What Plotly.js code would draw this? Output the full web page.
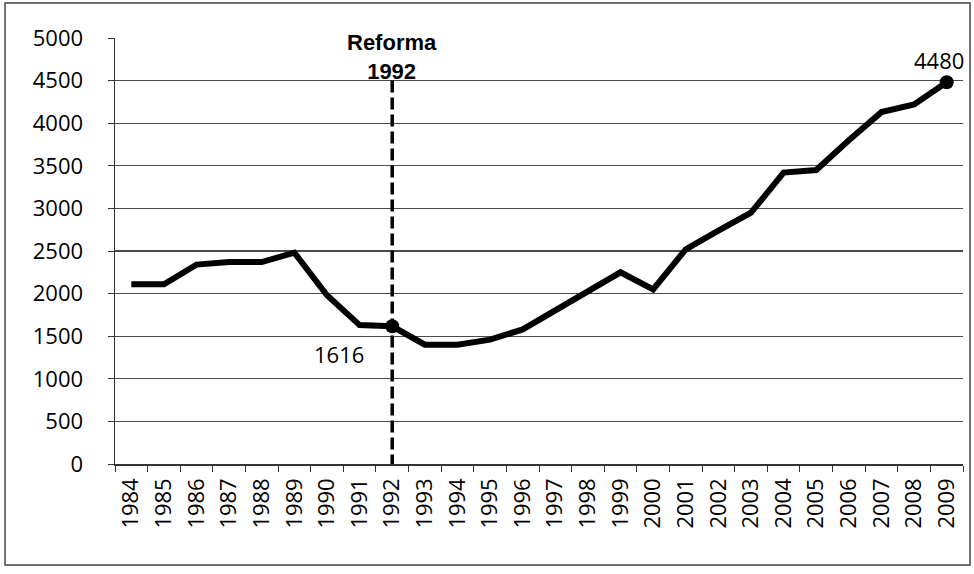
<!DOCTYPE html>
<html>
<head>
<meta charset="utf-8">
<script src="https://cdn.plot.ly/plotly-3.0.1.min.js"></script>
<style>
html,body{margin:0;padding:0;background:#fff;}
#chart{width:974px;height:574px;}
</style>
</head>
<body>
<div id="chart"></div>
<script>
// Data
const years = ["1984","1985","1986","1987","1988","1989","1990","1991","1992","1993","1994","1995","1996","1997","1998","1999","2000","2001","2002","2003","2004","2005","2006","2007","2008","2009"];
const values = [2110,2110,2340,2370,2370,2480,1980,1630,1616,1400,1400,1460,1580,1800,2040,2250,2050,2520,2740,2950,3420,3450,3800,4130,4220,4480];
const markedYears = ["1992","2009"];
const markedValues = [1616,4480];
const reformYear = "1992";
const reformTop = 4500;
const reformLabel = "Reforma<br>1992";
const yTicks = [0,500,1000,1500,2000,2500,3000,3500,4000,4500,5000];

const FONT = "Open Sans, Noto Sans, DejaVu Sans, sans-serif";
// category axes: refer to categories by their index
const idx = y => years.indexOf(y);

const traces = [
  {
    x: years, y: values, type: "scatter", mode: "lines",
    line: {color: "#000", width: 6},
    hoverinfo: "skip", showlegend: false
  },
  {
    x: markedYears, y: markedValues, type: "scatter", mode: "markers",
    marker: {color: "#000", size: 14},
    hoverinfo: "skip", showlegend: false
  }
];

const layout = {
  width: 974, height: 574,
  margin: {l: 115, r: 11, t: 38, b: 110},
  paper_bgcolor: "#fff", plot_bgcolor: "#fff",
  showlegend: false,
  font: {family: FONT, color: "#000"},
  xaxis: {
    type: "category",
    tickangle: -90,
    tickfont: {family: FONT, size: 22, color: "#000"},
    tickson: "boundaries",
    ticks: "outside", ticklen: 6, tickcolor: "#333", tickwidth: 1,
    showline: true, linecolor: "#333", linewidth: 1.5,
    showgrid: false, zeroline: false,
    ticklabelstandoff: 4,
    range: [-0.5, years.length - 0.5]
  },
  yaxis: {
    range: [0, 5000],
    tickvals: yTicks,
    ticktext: yTicks.map(String),
    tickfont: {family: FONT, size: 22, color: "#000"},
    ticks: "outside", ticklen: 6, tickcolor: "#333",
    ticklabelstandoff: 20,
    showline: true, linecolor: "#333", linewidth: 1.5,
    showgrid: true, gridcolor: "#4a4a4a", gridwidth: 1.2,
    zeroline: false
  },
  shapes: [
    {
      type: "line", xref: "x", yref: "y",
      x0: idx(reformYear), x1: idx(reformYear), y0: -30, y1: reformTop,
      line: {color: "#000", width: 3.5, dash: "12px,5px"}
    },
    {
      type: "rect", xref: "paper", yref: "paper",
      x0: -0.1297, x1: 1.0083, y0: -0.237, y1: 1.082,
      line: {color: "#444", width: 1.5}
    }
  ],
  annotations: [
    {
      x: idx(reformYear), y: reformTop, xref: "x", yref: "y",
      text: "<b>" + reformLabel + "</b>", showarrow: false,
      yanchor: "bottom", xanchor: "center", yshift: -5,
      font: {family: "Liberation Sans, Arial, sans-serif", size: 22, color: "#000"}
    },
    {
      x: idx(markedYears[0]), y: markedValues[0], xref: "x", yref: "y",
      text: String(markedValues[0]), showarrow: false,
      xshift: -53, yshift: -28,
      font: {family: FONT, size: 22, color: "#000"}
    },
    {
      x: idx(markedYears[1]), y: markedValues[1], xref: "x", yref: "y",
      text: String(markedValues[1]), showarrow: false,
      xshift: -8, yshift: 22,
      font: {family: FONT, size: 22, color: "#000"}
    }
  ]
};

Plotly.newPlot("chart", traces, layout, {displayModeBar: false, staticPlot: true});
</script>
</body>
</html>
